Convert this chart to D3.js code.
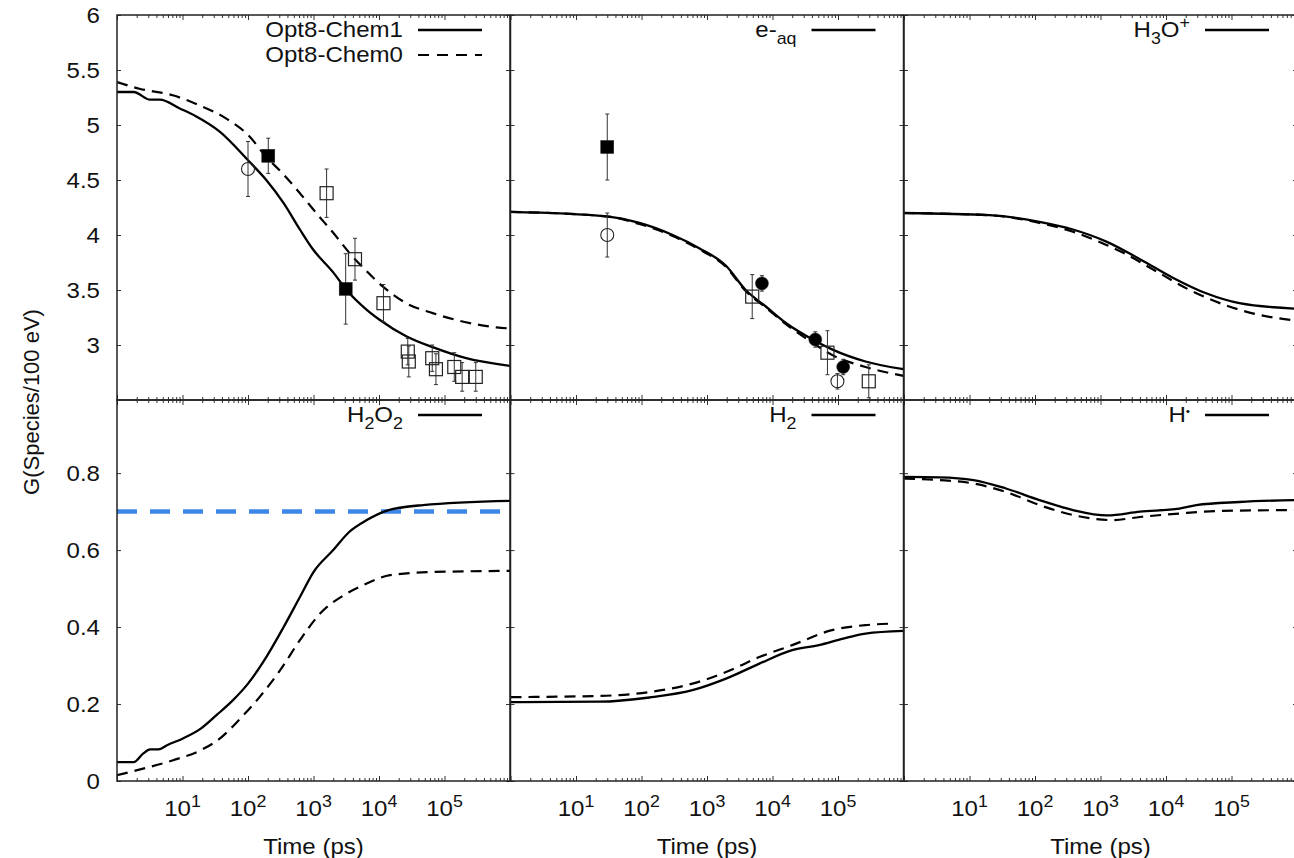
<!DOCTYPE html>
<html>
<head>
<meta charset="utf-8">
<script src="https://cdn.jsdelivr.net/npm/d3@7"></script>
<style>
  html, body { margin: 0; padding: 0; background: #fff; }
  svg { display: block; }
</style>
</head>
<body>
<svg id="chart" width="1294" height="858"></svg>
<script>
// ---------------- DATA ----------------
const timeTickLabels = [10, 100, 1000, 10000, 100000];
const topYTicks = [3, 3.5, 4, 4.5, 5, 5.5, 6];
const bottomYTicks = [0, 0.2, 0.4, 0.6, 0.8];
const seriesNames = ["Opt8-Chem1", "Opt8-Chem0"];
const h2o2Reference = 0.7;

// [time (ps), G]
const ohChem1 = [[1,5.30],[1.8,5.30],[3.2,5.23],[4.5,5.23],[9.1,5.15],[16,5.08],[37,4.94],[100,4.68],[190,4.50],[350,4.29],[620,4.05],[980,3.87],[2000,3.66],[3200,3.50],[6500,3.32],[10200,3.23],[26000,3.08],[66000,2.98],[214000,2.88],[1000000,2.81]];
const ohChem0 = [[1,5.39],[2.2,5.33],[7.1,5.27],[18,5.18],[46,5.06],[100,4.91],[190,4.71],[350,4.55],[620,4.38],[1100,4.20],[2000,4.02],[3500,3.84],[6500,3.67],[11500,3.53],[26000,3.38],[66000,3.29],[170000,3.22],[620000,3.16],[1000000,3.15]];
const eaqChem1 = [[1,4.21],[29,4.17],[93,4.11],[300,4.00],[760,3.88],[1950,3.72],[3900,3.50],[7900,3.35],[16000,3.20],[41000,3.05],[81000,2.96],[263000,2.85],[1000000,2.78]];
const eaqChem0 = [[1,4.21],[29,4.17],[93,4.10],[300,3.99],[760,3.87],[1950,3.71],[3900,3.49],[7900,3.34],[16000,3.19],[41000,3.02],[81000,2.91],[263000,2.80],[1000000,2.72]];
const h3oChem1 = [[1,4.20],[20,4.18],[117,4.12],[380,4.05],[1230,3.94],[4000,3.78],[12900,3.61],[41000,3.47],[132000,3.38],[1000000,3.33]];
const h3oChem0 = [[1,4.20],[20,4.18],[117,4.11],[380,4.03],[1230,3.91],[2200,3.84],[7100,3.67],[23000,3.50],[74000,3.37],[240000,3.28],[1000000,3.22]];
const h2o2Chem1 = [[1,0.049],[1.8,0.049],[2.5,0.071],[3.2,0.082],[4.3,0.082],[5.8,0.093],[10,0.110],[19,0.136],[33,0.171],[59,0.210],[100,0.253],[190,0.322],[350,0.400],[620,0.478],[1000,0.543],[2000,0.600],[3500,0.647],[6500,0.678],[12900,0.702],[47000,0.717],[1000000,0.728]];
const h2o2Chem0 = [[1,0.015],[2.5,0.032],[7.2,0.054],[19,0.080],[37,0.110],[76,0.162],[150,0.218],[310,0.288],[620,0.366],[1260,0.435],[3200,0.487],[6500,0.513],[14800,0.535],[66000,0.543],[1000000,0.546]];
const h2Chem1 = [[1,0.205],[23,0.206],[132,0.217],[600,0.236],[1950,0.266],[6300,0.305],[20000,0.340],[51000,0.353],[120000,0.370],[263000,0.383],[1000000,0.390]];
const h2Chem0 = [[1,0.218],[23,0.221],[132,0.231],[600,0.253],[1950,0.283],[6300,0.322],[20000,0.353],[81000,0.392],[263000,0.405],[676000,0.409]];
const hChem1 = [[1,0.790],[3.5,0.789],[11.5,0.782],[36,0.760],[117,0.730],[380,0.704],[1260,0.690],[4000,0.700],[16000,0.708],[29000,0.717],[132000,0.725],[1000000,0.730]];
const hChem0 = [[1,0.786],[3.5,0.782],[11.5,0.773],[36,0.751],[117,0.717],[380,0.691],[1500,0.678],[4000,0.686],[16000,0.695],[74000,0.702],[1000000,0.704]];

// experimental points [time (ps), G, error]
const ohOpenCircle = [[100,4.60,0.25]];
const ohFilledSquare = [[204,4.72,0.16],[3100,3.51,0.32]];
const ohOpenSquare = [[1585,4.38,0.22],[4300,3.78,0.19],[11700,3.38,0.17],[27500,2.94,0.12],[28500,2.85,0.14],[65000,2.88,0.12],[74000,2.78,0.14],[141000,2.80,0.13],[186000,2.71,0.13],[300000,2.71,0.13]];
const eaqFilledSquare = [[30,4.80,0.30]];
const eaqOpenCircle = [[30,4.00,0.20],[98000,2.67,0.07]];
const eaqOpenSquare = [[4900,3.44,0.20],[69000,2.93,0.20],[295000,2.67,0.15]];
const eaqFilledCircle = [[6900,3.56,0.07],[45000,3.05,0.07],[120000,2.80,0.07]];

// ---------------- LAYOUT ----------------
const FONT = "'Liberation Sans', Arial, Helvetica, sans-serif";
const SX = 1.12;            // horizontal stretch of the original text
const colLeft = [117, 510.5, 904];
const colW = 393;
const rows = [{top: 15, bottom: 400, domain: [2.5, 6], ticks: topYTicks},
              {top: 400, bottom: 781, domain: [0, 0.99], ticks: bottomYTicks}];

const panels = [
  {row: 0, col: 0, label: [{t: "Opt8-Chem1"}], lines: [ohChem1, ohChem0], twoKeys: true,
   points: [{d: ohOpenCircle, m: "circle", fill: false}, {d: ohFilledSquare, m: "square", fill: true}, {d: ohOpenSquare, m: "square", fill: false}]},
  {row: 0, col: 1, label: [{t: "e-"}, {t: "aq", s: "sub"}], lines: [eaqChem1, eaqChem0],
   points: [{d: eaqFilledSquare, m: "square", fill: true}, {d: eaqOpenCircle, m: "circle", fill: false}, {d: eaqOpenSquare, m: "square", fill: false}, {d: eaqFilledCircle, m: "circle", fill: true}]},
  {row: 0, col: 2, label: [{t: "H"}, {t: "3", s: "sub"}, {t: "O"}, {t: "+", s: "sup"}], lines: [h3oChem1, h3oChem0], points: []},
  {row: 1, col: 0, label: [{t: "H"}, {t: "2", s: "sub"}, {t: "O"}, {t: "2", s: "sub"}], lines: [h2o2Chem1, h2o2Chem0], points: [], ref: h2o2Reference},
  {row: 1, col: 1, label: [{t: "H"}, {t: "2", s: "sub"}], lines: [h2Chem1, h2Chem0], points: []},
  {row: 1, col: 2, label: [{t: "H"}, {t: "•", s: "dot"}], lines: [hChem1, hChem0], points: []}
];

const svg = d3.select("#chart");
svg.append("rect").attr("width", 1294).attr("height", 858).attr("fill", "#fff");

function stext(g, x, y, anchor, parts, size) {
  size = size || 21.5;
  const t = g.append("text")
    .attr("transform", `translate(${x},${y}) scale(${SX},1)`)
    .attr("text-anchor", anchor)
    .attr("font-family", FONT)
    .attr("font-size", size)
    .attr("fill", "#111");
  let cur = 0;
  parts.forEach(p => {
    let off = 0, fs = size;
    if (p.s === "sub") { off = 6.5; fs = size * 0.74; }
    else if (p.s === "sup") { off = -9; fs = size * 0.74; }
    else if (p.s === "dot") { off = -7; fs = size * 0.5; }
    t.append("tspan").attr("dy", off - cur).attr("font-size", fs).text(p.t);
    cur = off;
  });
  return t;
}

// minor log ticks
const minorTicks = [];
for (let d = 0; d < 6; d++) for (let k = 2; k <= 9; k++) minorTicks.push(k * Math.pow(10, d));
const majorTicks = [1, 10, 100, 1000, 10000, 100000, 1000000];

panels.forEach((p, i) => {
  const r = rows[p.row];
  const L = colLeft[p.col], R = L + colW;
  const x = d3.scaleLog().domain([1, 1e6]).range([L, R]);
  const y = d3.scaleLinear().domain(r.domain).range([r.bottom, r.top]);
  const g = svg.append("g");

  const clipId = "clip" + i;
  svg.append("clipPath").attr("id", clipId).append("rect")
    .attr("x", L).attr("y", r.top).attr("width", colW).attr("height", r.bottom - r.top);

  // axes (inward ticks on all four sides)
  const styleAxis = sel => { sel.select(".domain").remove(); sel.selectAll("line").attr("stroke", "#333").attr("stroke-width", 1); };
  g.append("g").attr("transform", `translate(0,${r.bottom})`).call(d3.axisBottom(x).tickValues(minorTicks).tickSize(-3).tickFormat("")).call(styleAxis);
  g.append("g").attr("transform", `translate(0,${r.bottom})`).call(d3.axisBottom(x).tickValues(majorTicks).tickSize(-5).tickFormat("")).call(styleAxis);
  g.append("g").attr("transform", `translate(0,${r.top})`).call(d3.axisTop(x).tickValues(minorTicks).tickSize(-3).tickFormat("")).call(styleAxis);
  g.append("g").attr("transform", `translate(0,${r.top})`).call(d3.axisTop(x).tickValues(majorTicks).tickSize(-5).tickFormat("")).call(styleAxis);
  g.append("g").attr("transform", `translate(${L},0)`).call(d3.axisLeft(y).tickValues(r.ticks).tickSize(-4).tickFormat("")).call(styleAxis);
  g.append("g").attr("transform", `translate(${R},0)`).call(d3.axisRight(y).tickValues(r.ticks).tickSize(-4).tickFormat("")).call(styleAxis);

  // y tick labels on the first column
  if (p.col === 0) {
    r.ticks.forEach(v => stext(g, 100, y(v) + 7.5, "end", [{t: String(v)}]));
  }
  // x tick labels + axis title on the bottom row
  if (p.row === 1) {
    timeTickLabels.forEach(v => {
      stext(g, x(v), 816, "middle", [{t: "10"}, {t: String(Math.round(Math.log10(v))), s: "sup"}]);
    });
    stext(g, (L + R) / 2, 854, "middle", [{t: "Time (ps)"}]);
  }

  const plot = g.append("g").attr("clip-path", `url(#${clipId})`);

  // reference line
  if (p.ref !== undefined) {
    plot.append("line").attr("x1", L).attr("x2", R).attr("y1", y(p.ref)).attr("y2", y(p.ref))
      .attr("stroke", "#3d87e8").attr("stroke-width", 4.5).attr("stroke-dasharray", "20,13");
  }

  const line = d3.line().x(d => x(d[0])).y(d => y(d[1])).curve(d3.curveMonotoneX);
  plot.append("path").datum(p.lines[1]).attr("d", line).attr("fill", "none")
    .attr("stroke", "#000").attr("stroke-width", 2.2).attr("stroke-dasharray", "11,7");
  plot.append("path").datum(p.lines[0]).attr("d", line).attr("fill", "none")
    .attr("stroke", "#000").attr("stroke-width", 2.3);

  // experimental points
  p.points.forEach(set => {
    set.d.forEach(d => {
      const cx = x(d[0]), cy = y(d[1]);
      const y1 = y(d[1] + d[2]), y2 = y(d[1] - d[2]);
      plot.append("line").attr("x1", cx).attr("x2", cx).attr("y1", y1).attr("y2", y2).attr("stroke", "#333").attr("stroke-width", 1);
      [y1, y2].forEach(yy => plot.append("line").attr("x1", cx - 2).attr("x2", cx + 2).attr("y1", yy).attr("y2", yy).attr("stroke", "#333").attr("stroke-width", 1));
      if (set.m === "square") {
        plot.append("rect").attr("x", cx - 6.5).attr("y", cy - 6.5).attr("width", 13).attr("height", 13)
          .attr("fill", set.fill ? "#000" : "none").attr("stroke", "#222").attr("stroke-width", set.fill ? 0.5 : 1.2);
      } else {
        plot.append("circle").attr("cx", cx).attr("cy", cy).attr("r", 6.5)
          .attr("fill", set.fill ? "#000" : "none").attr("stroke", "#222").attr("stroke-width", set.fill ? 0.5 : 1.1);
      }
    });
  });

  // frame
  g.append("rect").attr("x", L).attr("y", r.top).attr("width", colW).attr("height", r.bottom - r.top)
    .attr("fill", "none").attr("stroke", "#222").attr("stroke-width", 1.5);

  // key
  const ky = r.top + 15;
  stext(g, R - 107, ky + 7, "end", p.label);
  g.append("line").attr("x1", R - 92).attr("x2", R - 28).attr("y1", ky).attr("y2", ky).attr("stroke", "#000").attr("stroke-width", 2.3);
  if (p.twoKeys) {
    stext(g, R - 107, ky + 32, "end", [{t: seriesNames[1]}]);
    g.append("line").attr("x1", R - 92).attr("x2", R - 28).attr("y1", ky + 25).attr("y2", ky + 25)
      .attr("stroke", "#000").attr("stroke-width", 2.2).attr("stroke-dasharray", "11,8");
  }
});

// y axis title
svg.append("text")
  .attr("transform", "translate(39,402) rotate(-90)")
  .attr("text-anchor", "middle")
  .attr("font-family", FONT)
  .attr("font-size", 22)
  .attr("fill", "#111")
  .text("G(Species/100 eV)");
</script>
</body>
</html>
